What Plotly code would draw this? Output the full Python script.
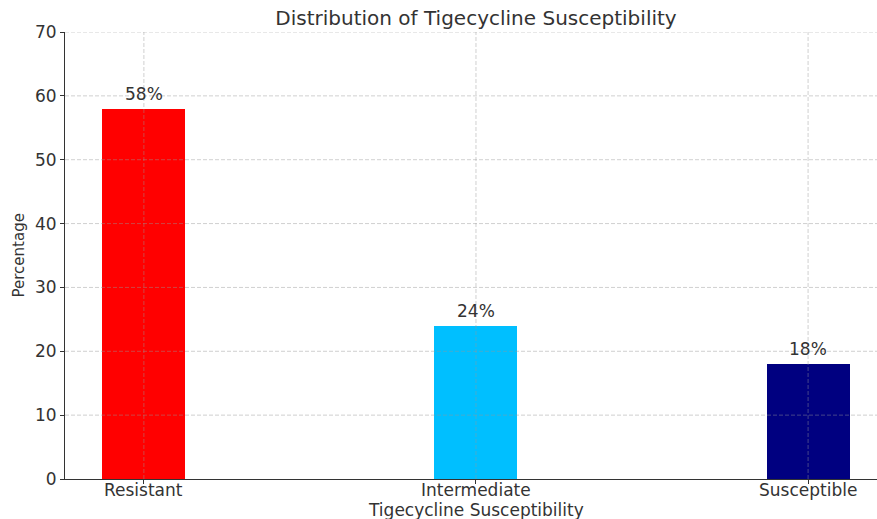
import plotly.graph_objects as go

# Tigecycline susceptibility breakdown (percent of isolates)
categories = ["Resistant", "Intermediate", "Susceptible"]
percentages = [58, 24, 18]
bar_colors = ["#ff0000", "#00bfff", "#000080"]
y_ticks = [0, 10, 20, 30, 40, 50, 60, 70]

TEXT = "#333333"
FONT = "DejaVu Sans"
GRID = "rgba(150,150,150,0.45)"

x_pos = list(range(len(categories)))

fig = go.Figure(
    go.Bar(
        x=x_pos,
        y=percentages,
        width=0.25,
        marker=dict(color=bar_colors, line=dict(width=0)),
        hoverinfo="x+y",
    )
)

# dashed grid drawn on top of the bars
shapes = []
for t in y_ticks[1:]:
    shapes.append(dict(type="line", xref="paper", yref="y", x0=0, x1=1, y0=t, y1=t,
                       line=dict(color=GRID, width=1, dash="4px,2px"), layer="above"))
for xp in x_pos:
    shapes.append(dict(type="line", xref="x", yref="paper", x0=xp, x1=xp, y0=0, y1=1,
                       line=dict(color=GRID, width=1, dash="4px,2px"), layer="above"))

# value labels above each bar
annotations = [
    dict(x=xp, y=v, xref="x", yref="y", text=f"{v}%", showarrow=False,
         yanchor="bottom", yshift=3, font=dict(family=FONT, size=17, color=TEXT))
    for xp, v in zip(x_pos, percentages)
]
# category labels under the axis
annotations += [
    dict(x=xp, y=0, xref="x", yref="paper", text=c, showarrow=False, borderpad=0,
         yanchor="middle", yshift=-11, font=dict(family=FONT, size=17, color=TEXT))
    for xp, c in zip(x_pos, categories)
]
annotations.append(dict(x=0.506, y=0, xref="paper", yref="paper", yanchor="middle",
                        yshift=-31, borderpad=0, text="Tigecycline Susceptibility",
                        showarrow=False, font=dict(family=FONT, size=17, color=TEXT)))
annotations.append(dict(x=0, y=0.5, xref="paper", yref="paper", xanchor="center",
                        xshift=-47, text="Percentage", textangle=-90, showarrow=False,
                        font=dict(family=FONT, size=15, color=TEXT)))

fig.update_layout(
    width=877,
    height=519,
    margin=dict(l=65, r=0, t=32, b=40),
    paper_bgcolor="white",
    plot_bgcolor="white",
    showlegend=False,
    font=dict(family=FONT, size=16, color=TEXT),
    title=dict(text="Distribution of Tigecycline Susceptibility", x=476 / 877, xanchor="center",
               y=1 - 18 / 519, yanchor="middle", yref="container",
               font=dict(family=FONT, size=20, color=TEXT)),
    shapes=shapes,
    annotations=annotations,
    bargap=0,
)

fig.update_xaxes(
    range=[-0.2375, 2.2075],
    tickvals=x_pos,
    showticklabels=False,
    showgrid=False,
    zeroline=False,
    showline=True,
    linecolor=TEXT,
    linewidth=1,
    ticks="outside",
    ticklen=4,
    tickcolor=TEXT,
)

fig.update_yaxes(
    range=[0, 70],
    tickvals=y_ticks,
    showgrid=False,
    zeroline=False,
    showline=True,
    linecolor=TEXT,
    linewidth=1,
    ticks="outside",
    ticklen=4,
    tickcolor=TEXT,
    tickfont=dict(family=FONT, size=17, color=TEXT),
)

fig.write_html("out.html")
